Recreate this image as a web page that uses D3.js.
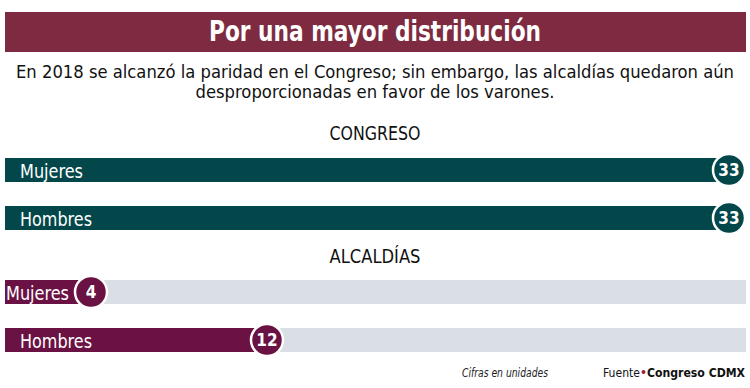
<!DOCTYPE html>
<html>
<head>
<meta charset="utf-8">
<script src="https://cdn.jsdelivr.net/npm/d3@7"></script>
<style>
  body { margin: 0; background: #fff; }
  svg { display: block; }
  text { font-family: "DejaVu Sans Condensed", "DejaVu Sans", sans-serif; font-stretch: condensed; }
</style>
</head>
<body>
<svg width="750" height="388"></svg>
<script>
'use strict';

// data
const title = "Por una mayor distribución";
const subtitle = ["En 2018 se alcanzó la paridad en el Congreso; sin embargo, las alcaldías quedaron aún",
                  "desproporcionadas en favor de los varones."];
const subtitleWidths = [718, 359];
const groups = ["CONGRESO", "ALCALDÍAS"];
const categories = ["Mujeres", "Hombres"];
const labelWidths = [63, 72];
const congresoValues = [33, 33];
const alcaldiasValues = [4, 12];
const maxSeats = 33;

const svg = d3.select("svg");
const W = 750;

const colBanner = "#7e2b41";
const colTeal = "#03474a";
const colPurple = "#6a1244";
const colGrey = "#d9dfe4";

// squeeze a text to the width it has in the picture (condensed face)
function fit(sel, w) {
  sel.attr("textLength", w).attr("lengthAdjust", "spacingAndGlyphs");
  return sel;
}

// title banner
svg.append("rect")
    .attr("x", 5).attr("y", 12)
    .attr("width", 741).attr("height", 40)
    .attr("fill", colBanner);

fit(svg.append("text")
    .attr("x", W / 2).attr("y", 41)
    .attr("text-anchor", "middle")
    .attr("fill", "#fff")
    .attr("font-size", 28)
    .attr("font-weight", "bold")
    .text(title), 332);

svg.selectAll(".sub")
  .data(subtitle)
  .enter().append("text")
    .attr("class", "sub")
    .attr("x", W / 2)
    .attr("y", (d, i) => 78 + i * 20)
    .attr("text-anchor", "middle")
    .attr("fill", "#111")
    .attr("font-size", 18.5)
    .attr("textLength", (d, i) => subtitleWidths[i])
    .attr("lengthAdjust", "spacingAndGlyphs")
    .text(d => d);

const x = d3.scaleLinear().domain([0, maxSeats]).range([3, 729]);

const barH = 24;
const r = 16;

const panels = [
  {name: groups[0], values: congresoValues, color: colTeal, top: 158, head: 140, bg: false},
  {name: groups[1], values: alcaldiasValues, color: colPurple, top: 280, head: 263, bg: true}
];

panels.forEach(function(p) {
  fit(svg.append("text")
      .attr("x", W / 2).attr("y", p.head)
      .attr("text-anchor", "middle")
      .attr("fill", "#111")
      .attr("font-size", 19)
      .text(p.name), 91);

  const g = svg.append("g").attr("transform", "translate(0," + p.top + ")");

  categories.forEach(function(c, i) {
    const yy = i * 48;
    const v = p.values[i];
    if (p.bg) {
      g.append("rect")
          .attr("x", 5).attr("y", yy)
          .attr("width", 741).attr("height", barH)
          .attr("fill", colGrey);
    }
    g.append("rect")
        .attr("x", 5).attr("y", yy)
        .attr("width", x(v) - 5).attr("height", barH)
        .attr("fill", p.color);

    // label inside bar, pushed left when the bar is short
    const lx = (x(v) - 5 < 100) ? 6 : 20;
    fit(g.append("text")
        .attr("x", lx).attr("y", yy + 19.5)
        .attr("fill", "#fff")
        .attr("font-size", 20)
        .text(c), labelWidths[i]);

    g.append("circle")
        .attr("cx", x(v)).attr("cy", yy + barH / 2)
        .attr("r", r)
        .attr("fill", p.color)
        .attr("stroke", "#fff")
        .attr("stroke-width", 2.5);

    g.append("text")
        .attr("x", x(v)).attr("y", yy + barH / 2 + 6)
        .attr("text-anchor", "middle")
        .attr("fill", "#fff")
        .attr("font-size", 17)
        .attr("font-weight", "bold")
        .text(v);
  });
});

// footer
fit(svg.append("text")
    .attr("x", 462).attr("y", 377)
    .attr("font-size", 13)
    .attr("font-style", "italic")
    .attr("fill", "#222")
    .text("Cifras en unidades"), 86);

fit(svg.append("text")
    .attr("x", 603).attr("y", 377)
    .attr("font-size", 13)
    .attr("fill", "#111")
    .text("Fuente"), 37);

svg.append("circle")
    .attr("cx", 643.5).attr("cy", 372)
    .attr("r", 2)
    .attr("fill", "#a0203a");

fit(svg.append("text")
    .attr("x", 647).attr("y", 377)
    .attr("font-size", 12)
    .attr("font-weight", "bold")
    .attr("fill", "#111")
    .text("Congreso CDMX"), 98);
</script>
</body>
</html>
